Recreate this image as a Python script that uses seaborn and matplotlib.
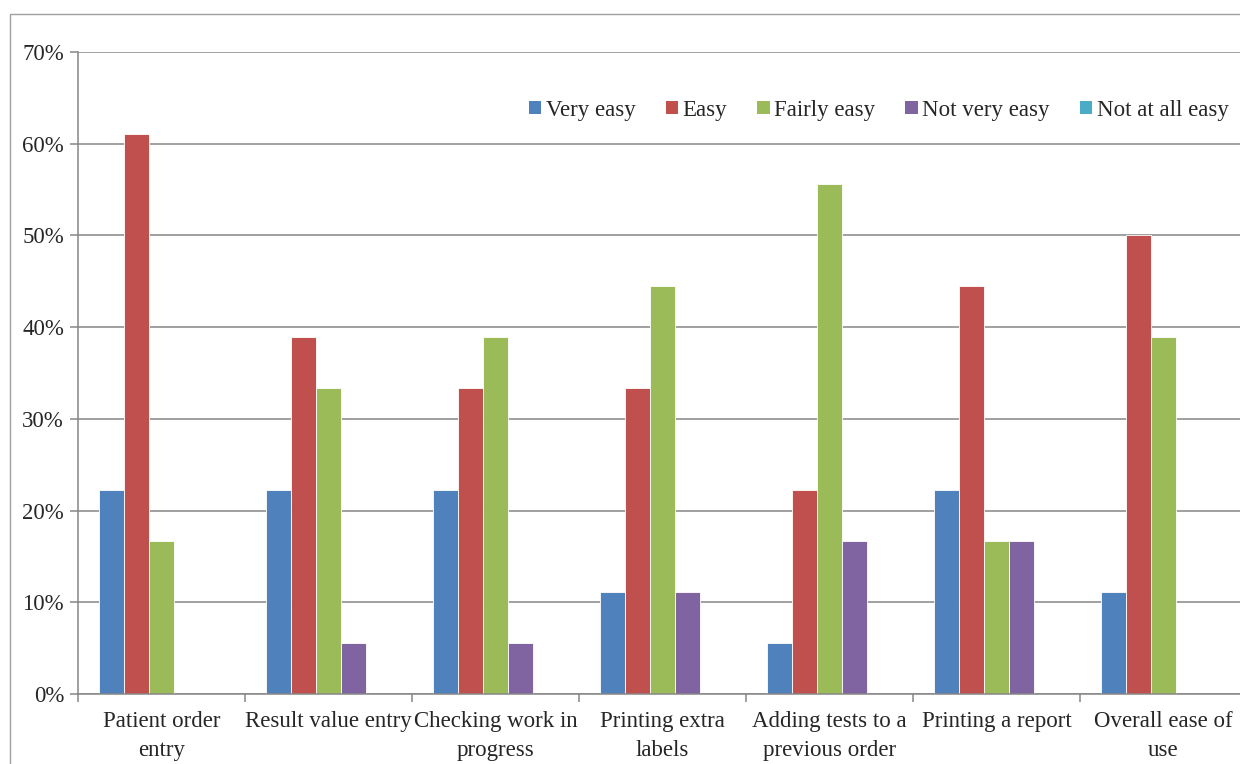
import matplotlib
matplotlib.use("Agg")
import matplotlib.pyplot as plt
import seaborn as sns
import pandas as pd
from matplotlib.patches import Rectangle
from matplotlib.ticker import FuncFormatter, FixedLocator

categories = ["Patient order\nentry", "Result value entry", "Checking work in\nprogress",
              "Printing extra\nlabels", "Adding tests to a\nprevious order", "Printing a report",
              "Overall ease of\nuse"]
series = ["Very easy", "Easy", "Fairly easy", "Not very easy", "Not at all easy"]
very_easy = [0.2222, 0.2222, 0.2222, 0.1111, 0.0556, 0.2222, 0.1111]
easy = [0.6111, 0.3889, 0.3333, 0.3333, 0.2222, 0.4444, 0.5000]
fairly_easy = [0.1667, 0.3333, 0.3889, 0.4444, 0.5556, 0.1667, 0.3889]
not_very_easy = [0.0, 0.0556, 0.0556, 0.1111, 0.1667, 0.1667, 0.0]
not_at_all_easy = [0.0, 0.0, 0.0, 0.0, 0.0, 0.0, 0.0]
colors = ["#4F81BD", "#C0504D", "#9BBB59", "#8064A2", "#4BACC6"]

rows = []
for s, vals in zip(series, [very_easy, easy, fairly_easy, not_very_easy, not_at_all_easy]):
    for c, v in zip(categories, vals):
        rows.append({"category": c, "series": s, "value": v})
df = pd.DataFrame(rows)

sns.set_style("white")
plt.rcParams["font.family"] = ["Liberation Serif", "DejaVu Serif"]

FS = 16.5
W, H = 1240, 764
fig = plt.figure(figsize=(W / 100, H / 100), dpi=100)
ax = fig.add_axes([78 / W, (H - 694) / H, 1169 / W, 642 / H])

sns.barplot(data=df, x="category", y="value", hue="series", order=categories,
            hue_order=series, palette=colors, saturation=1, width=0.75, gap=0, ax=ax,
            edgecolor="white", linewidth=0.6, errorbar=None, legend=True)

ax.set_xlim(-0.5, 6.5)
ax.set_ylim(0, 0.7)
ax.set_yticks([i / 10 for i in range(8)])
ax.yaxis.set_major_formatter(FuncFormatter(lambda v, p: f"{round(v * 100)}%"))
ax.grid(axis="y", color="#868686", linewidth=1.1)
ax.set_axisbelow(True)
ax.set_xlabel("")
ax.set_ylabel("")

for side in ["top", "right"]:
    ax.spines[side].set_visible(False)
for side in ["left", "bottom"]:
    ax.spines[side].set_color("#868686")
    ax.spines[side].set_linewidth(1.1)

ax.set_xticks(range(len(categories)))
ax.set_xticklabels(categories, linespacing=1.55)
ax.tick_params(axis="y", which="major", length=6, color="#868686", width=1.1,
               labelsize=FS, pad=4, left=True)
ax.tick_params(axis="x", which="major", length=0, labelsize=FS, pad=12)
ax.xaxis.set_minor_locator(FixedLocator([i - 0.5 for i in range(8)]))
ax.tick_params(axis="x", which="minor", length=6, color="#868686", width=1.1, bottom=True)

leg = ax.legend(loc="upper right", bbox_to_anchor=(1160 / 1169, 0.94), ncol=5, frameon=False,
                fontsize=FS, handlelength=0.55, handleheight=0.55, handletextpad=0.2,
                columnspacing=1.3, borderaxespad=0)
for h in leg.legend_handles:
    h.set_edgecolor("none")

fig.patches.append(Rectangle((10 / W, -0.1), 1.2, (H - 14) / H + 0.1, transform=fig.transFigure,
                             fill=False, edgecolor="#A0A0A0", linewidth=1.0))

fig.savefig("out.png", dpi=100)
